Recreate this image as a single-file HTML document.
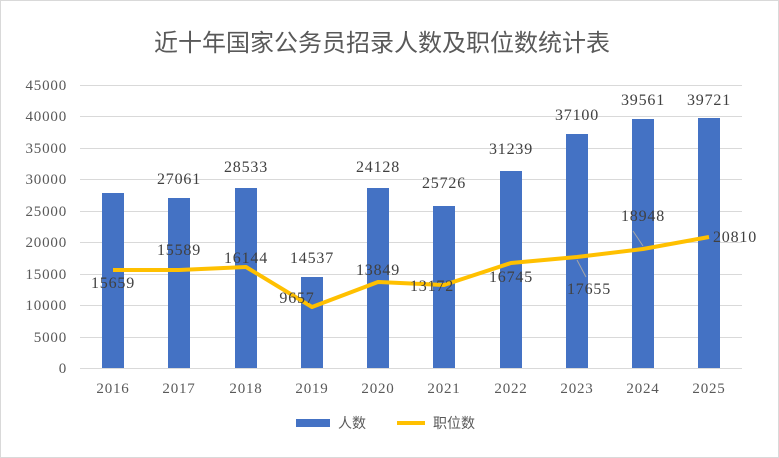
<!DOCTYPE html>
<html><head><meta charset="utf-8"><style>
html,body{margin:0;padding:0;background:#fff;}
svg{display:block;}
</style></head><body>
<svg width="779" height="458" xmlns="http://www.w3.org/2000/svg">
<rect x="0.5" y="0.5" width="778" height="457" fill="#fff" stroke="#d9d9d9"/>
<text x="382" y="51" text-anchor="middle" font-family="'Noto Sans CJK SC',sans-serif" font-size="24" fill="#595959">近十年国家公务员招录人数及职位数统计表</text>
<g stroke="#d9d9d9" stroke-width="1">
<line x1="80" y1="85.5" x2="742" y2="85.5"/><line x1="80" y1="116.5" x2="742" y2="116.5"/><line x1="80" y1="148.5" x2="742" y2="148.5"/><line x1="80" y1="179.5" x2="742" y2="179.5"/><line x1="80" y1="211.5" x2="742" y2="211.5"/><line x1="80" y1="242.5" x2="742" y2="242.5"/><line x1="80" y1="274.5" x2="742" y2="274.5"/><line x1="80" y1="305.5" x2="742" y2="305.5"/><line x1="80" y1="337.5" x2="742" y2="337.5"/><line x1="80" y1="368.5" x2="742" y2="368.5"/>
</g>
<g font-family="'Liberation Serif',serif" font-size="15" fill="#595959" text-anchor="end" letter-spacing="0.8">
<text x="67" y="90">45000</text><text x="67" y="121">40000</text><text x="67" y="153">35000</text><text x="67" y="184">30000</text><text x="67" y="216">25000</text><text x="67" y="247">20000</text><text x="67" y="279">15000</text><text x="67" y="310">10000</text><text x="67" y="342">5000</text><text x="67" y="373">0</text>
</g>
<g font-family="'Liberation Serif',serif" font-size="15" fill="#595959" text-anchor="middle" letter-spacing="0.8">
<text x="113" y="393">2016</text><text x="179" y="393">2017</text><text x="246" y="393">2018</text><text x="312" y="393">2019</text><text x="378" y="393">2020</text><text x="444" y="393">2021</text><text x="511" y="393">2022</text><text x="577" y="393">2023</text><text x="643" y="393">2024</text><text x="709" y="393">2025</text>
</g>
<g fill="#4472c4">
<rect x="102" y="193" width="22" height="175"/><rect x="168" y="198" width="22" height="170"/><rect x="235" y="188" width="22" height="180"/><rect x="301" y="277" width="22" height="91"/><rect x="367" y="188" width="22" height="180"/><rect x="433" y="206" width="22" height="162"/><rect x="500" y="171" width="22" height="197"/><rect x="566" y="134" width="22" height="234"/><rect x="632" y="119" width="22" height="249"/><rect x="698" y="118" width="22" height="250"/>
</g>
<polyline points="113,270 179,270 246,267 312,307 378,282 444,285 511,263 577,257 643,249 709,237" fill="none" stroke="#ffc000" stroke-width="4" stroke-linejoin="round"/>
<g stroke="#a6a6a6" stroke-width="1"><line x1="577" y1="260" x2="586" y2="277"/><line x1="633" y1="231" x2="643" y2="246"/></g>
<g font-family="'Liberation Serif',serif" font-size="16" fill="#404040" text-anchor="middle" letter-spacing="0.8">
<text x="113" y="288">15659</text><text x="179" y="184">27061</text><text x="246" y="172">28533</text><text x="312" y="263">14537</text><text x="378" y="172">24128</text><text x="444" y="188">25726</text><text x="511" y="154">31239</text><text x="577" y="120">37100</text><text x="643" y="105">39561</text><text x="709" y="105">39721</text>
<text x="179" y="255">15589</text><text x="246" y="263">16144</text><text x="297" y="303">9657</text><text x="378" y="275">13849</text><text x="432" y="291">13172</text><text x="511" y="282">16745</text><text x="589" y="294">17655</text><text x="643" y="221">18948</text><text x="735" y="242">20810</text>
</g>
<rect x="296" y="419" width="34" height="8" fill="#4472c4"/>
<text x="338" y="428" font-family="'Noto Sans CJK SC',sans-serif" font-size="14" fill="#595959">人数</text>
<line x1="397" y1="423" x2="425" y2="423" stroke="#ffc000" stroke-width="4"/>
<text x="433" y="428" font-family="'Noto Sans CJK SC',sans-serif" font-size="14" fill="#595959">职位数</text>
</svg>
</body></html>
